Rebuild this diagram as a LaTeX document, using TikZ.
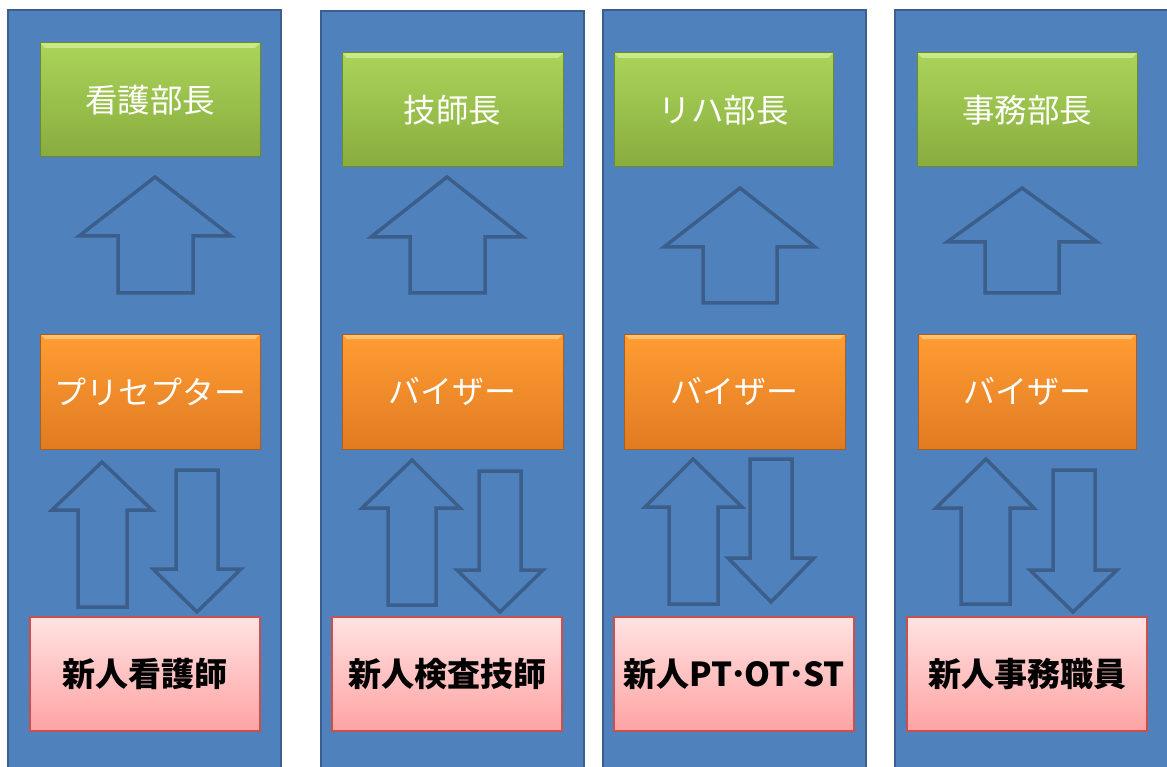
\documentclass[tikz,border=0pt]{standalone}
\usepackage{fontspec}
\setmainfont{Noto Sans CJK JP}
\usetikzlibrary{shadings}
\definecolor{panelblue}{HTML}{4F81BD}
\definecolor{panelline}{HTML}{3A5F8E}
\definecolor{arrline}{HTML}{3B5E8A}
\definecolor{gtop}{HTML}{AAD45A}
\definecolor{gbot}{HTML}{89AC3E}
\definecolor{gline}{HTML}{6B8A2E}
\definecolor{ghi}{HTML}{C8E88A}
\definecolor{otop}{HTML}{FF9D33}
\definecolor{obot}{HTML}{E07B22}
\definecolor{oline}{HTML}{A85E1C}
\definecolor{ohi}{HTML}{FFC070}
\definecolor{ptop}{HTML}{FFE2E2}
\definecolor{pbot}{HTML}{FFA3A3}
\definecolor{pline}{HTML}{C8504D}
\tikzset{
  panel/.style={fill=panelblue,draw=panelline,line width=2.5pt},
  blockarrow/.style={draw=arrline,line width=3.5pt,line join=miter,fill=panelblue},
  bevel/.style={path picture={
      \fill[#1] (path picture bounding box.north west) -- (path picture bounding box.north east)
        -- ([xshift=-5pt,yshift=-5pt]path picture bounding box.north east)
        -- ([xshift=5pt,yshift=-5pt]path picture bounding box.north west) -- cycle;}},
  greenbox/.style={rectangle,top color=gtop,bottom color=gbot,draw=gline,line width=1pt,
    bevel=ghi,text=white,font=\fontsize{32.5}{38}\selectfont,minimum height=114pt,inner sep=0pt},
  orangebox/.style={rectangle,top color=otop,bottom color=obot,draw=oline,line width=1pt,
    bevel=ohi,text=white,font=\fontsize{32}{38}\selectfont,minimum height=115pt,inner sep=0pt},
  pinkbox/.style={rectangle,top color=ptop,bottom color=pbot,draw=pline,line width=1.3pt,
    text=black,font=\bfseries\fontsize{33}{38}\selectfont,minimum height=114pt,inner sep=0pt},
}
\begin{document}
\begin{tikzpicture}[x=1pt,y=-1pt]
\useasboundingbox (0,0) rectangle (1167,767);
\clip (0,0) rectangle (1167,767);
\fill[white] (0,0) rectangle (1167,767);
% panels
\draw[panel] (8,10) rectangle (281,790);
\draw[panel] (321,11) rectangle (584,790);
\draw[panel] (603,10) rectangle (866,790);
\draw[panel] (895,10) rectangle (1190,790);
% top boxes
\node[greenbox,minimum width=220pt] (g1) at (150,100) {看護部長};
\node[greenbox,minimum width=221pt] (g2) at (452.5,110) {技師長};
\node[greenbox,minimum width=219pt] (g3) at (723.5,110) {リハ部長};
\node[greenbox,minimum width=220pt] (g4) at (1027,110) {事務部長};
% middle boxes
\node[orangebox,minimum width=220pt] (o1) at (150,391.5) {プリセプター};
\node[orangebox,minimum width=221pt] (o2) at (452.5,391.5) {バイザー};
\node[orangebox,minimum width=221pt] (o3) at (734.5,391.5) {バイザー};
\node[orangebox,minimum width=218pt] (o4) at (1027,391.5) {バイザー};
% bottom boxes
\node[pinkbox,minimum width=230pt] (n1) at (145,674) {新人看護師};
\node[pinkbox,minimum width=230pt] (n2) at (447,674) {新人検査技師};
\node[pinkbox,minimum width=240pt] (n3) at (734,674) {新人PT\hspace{-2pt}･\hspace{-2pt}OT\hspace{-2pt}･\hspace{-2pt}ST};
\node[pinkbox,minimum width=240pt] (n4) at (1027,674) {新人事務職員};
% upper up arrows
\draw[blockarrow] (155,177) -- (231,236) -- (193,236) -- (193,293) -- (118,293) -- (118,236) -- (79,236) -- cycle;
\draw[blockarrow] (447,177) -- (523,237) -- (485,237) -- (485,293) -- (410,293) -- (410,237) -- (371,237) -- cycle;
\draw[blockarrow] (740,188) -- (815,247) -- (777,247) -- (777,303) -- (703,303) -- (703,247) -- (664,247) -- cycle;
\draw[blockarrow] (1022,188) -- (1097,242) -- (1059,242) -- (1059,293) -- (985,293) -- (985,242) -- (947,242) -- cycle;
% lower up arrows
\draw[blockarrow] (102,462) -- (152,510) -- (127,510) -- (127,607) -- (78,607) -- (78,510) -- (52,510) -- cycle;
\draw[blockarrow] (412,460) -- (460,508) -- (436,508) -- (436,605) -- (388,605) -- (388,508) -- (362,508) -- cycle;
\draw[blockarrow] (693,459) -- (742,507) -- (718,507) -- (718,604) -- (669,604) -- (669,507) -- (645,507) -- cycle;
\draw[blockarrow] (986,459) -- (1034,508) -- (1010,508) -- (1010,604) -- (961,604) -- (961,508) -- (936,508) -- cycle;
% down arrows
\draw[blockarrow] (197,612) -- (241,569) -- (218,569) -- (218,470) -- (176,470) -- (176,569) -- (153,569) -- cycle;
\draw[blockarrow] (500,612) -- (543,570) -- (521,570) -- (521,471) -- (479,471) -- (479,570) -- (457,570) -- cycle;
\draw[blockarrow] (771,602) -- (814,558) -- (792,558) -- (792,459) -- (750,459) -- (750,558) -- (728,558) -- cycle;
\draw[blockarrow] (1073,612) -- (1117,570) -- (1095,570) -- (1095,470) -- (1053,470) -- (1053,570) -- (1030,570) -- cycle;
\end{tikzpicture}
\end{document}
